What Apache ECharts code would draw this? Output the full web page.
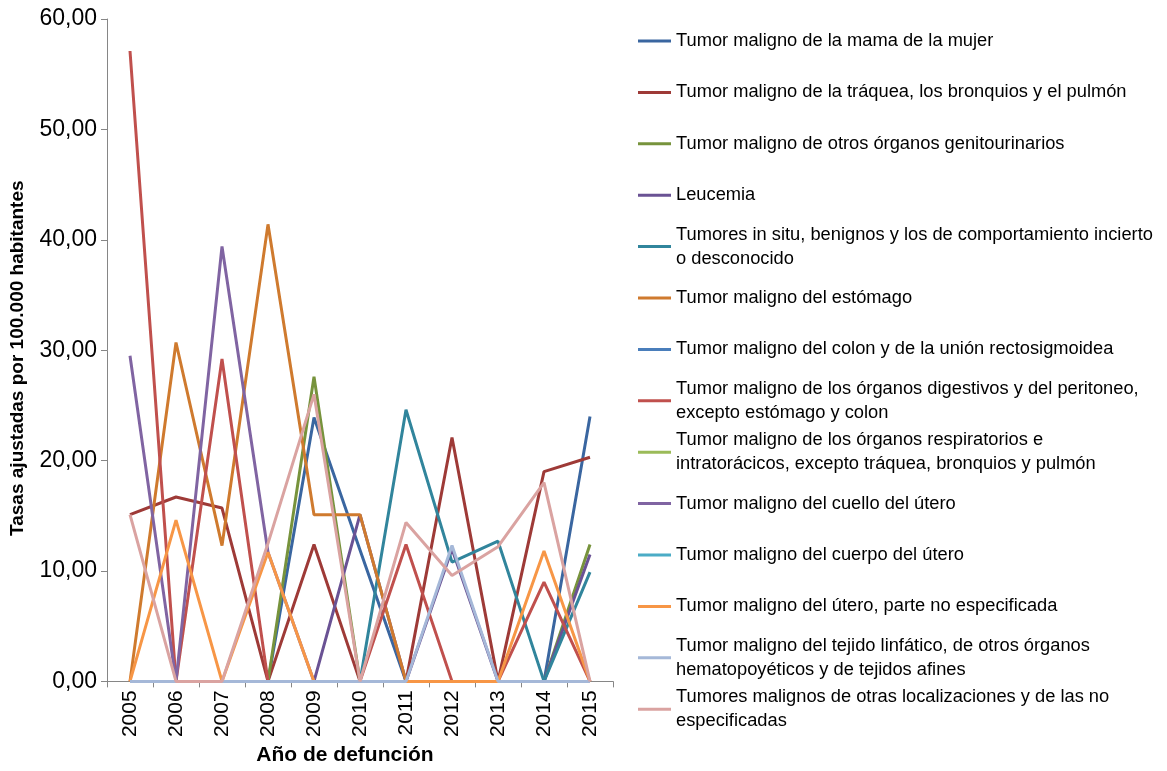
<!DOCTYPE html>
<html>
<head>
<meta charset="utf-8">
<title>Tasas ajustadas</title>
<script src="https://cdn.jsdelivr.net/npm/echarts@6/dist/echarts.min.js"></script>
<style>
  html, body { margin: 0; padding: 0; background: #fff; }
  #chart { width: 1167px; height: 771px; }
</style>
</head>
<body>
<div id="chart"></div>
<script>
// años (eje x)
var years = ['2005', '2006', '2007', '2008', '2009', '2010', '2011', '2012', '2013', '2014', '2015'];

// nombres de las series, tal como salen en la leyenda
var names = [
  'Tumor maligno de la mama de la mujer',
  'Tumor maligno de la tráquea, los bronquios y el pulmón',
  'Tumor maligno de otros órganos genitourinarios',
  'Leucemia',
  'Tumores in situ, benignos y los de comportamiento incierto\no desconocido',
  'Tumor maligno del estómago',
  'Tumor maligno del colon y de la unión rectosigmoidea',
  'Tumor maligno de los órganos digestivos y del peritoneo,\nexcepto estómago y colon',
  'Tumor maligno de los órganos respiratorios e\nintratorácicos, excepto tráquea, bronquios y pulmón',
  'Tumor maligno del cuello del útero',
  'Tumor maligno del cuerpo del útero',
  'Tumor maligno del útero, parte no especificada',
  'Tumor maligno del tejido linfático, de otros órganos\nhematopoyéticos y de tejidos afines',
  'Tumores malignos de otras localizaciones y de las no\nespecificadas'
];

// tasas por serie, 2005..2015
var mama          = [0, 0, 0, 0, 23.9, 11.9, 0, 0, 0, 0, 24.0];
var traquea       = [15.1, 16.7, 15.7, 0, 12.4, 0, 0, 22.1, 0, 19.0, 20.3];
var genitourin    = [0, 0, 0, 0, 27.6, 0, 0, 0, 0, 0, 12.4];
var leucemia      = [0, 0, 0, 0, 0, 15.1, 0, 12.0, 0, 0, 11.5];
var inSitu        = [0, 0, 0, 0, 0, 0, 24.6, 10.8, 12.7, 0, 9.9];
var estomago      = [0, 30.7, 12.3, 41.4, 15.1, 15.1, 0, 0, 0, 0, 0];
var colon         = [0, 0, 0, 0, 0, 0, 0, 0, 0, 0, 0];
var digestivos    = [57.1, 0, 29.2, 0, 0, 0, 12.4, 0, 0, 9.0, 0];
var respiratorios = [0, 0, 0, 0, 0, 0, 0, 0, 0, 0, 0];
var cuelloUtero   = [29.5, 0, 39.4, 11.7, 0, 0, 0, 0, 0, 0, 0];
var cuerpoUtero   = [0, 0, 0, 0, 0, 0, 0, 0, 0, 0, 0];
var uteroNoEsp    = [0, 14.6, 0, 11.7, 0, 0, 0, 0, 0, 11.8, 0];
var linfatico     = [0, 0, 0, 0, 0, 0, 0, 12.3, 0, 0, 0];
var otras         = [15.1, 0, 0, 12.5, 26.0, 0, 14.4, 9.6, 12.2, 18.0, 0];

var values = [mama, traquea, genitourin, leucemia, inSitu, estomago, colon,
  digestivos, respiratorios, cuelloUtero, cuerpoUtero, uteroNoEsp, linfatico, otras];

var colors = ['#3A66A0', '#9E3A37', '#77933C', '#6A5294', '#31859C', '#CF7A2E', '#4A7EBB',
  '#C0504D', '#9BBB59', '#8064A2', '#4BACC6', '#F79646', '#A5B8D8', '#DAA3A1'];

var font = "'Liberation Sans', Arial, sans-serif";

var myChart = echarts.init(document.getElementById('chart'), null, { renderer: 'canvas' });

// una leyenda por serie, así cada entrada queda en su sitio
var legends = [];
for (var i = 0; i < names.length; i++) {
  var twoLines = names[i].indexOf('\n') >= 0;
  var iconY = 41 + i * 51.4;
  legends.push({
    orient: 'vertical',
    left: 638,
    top: twoLines ? iconY - 36 : iconY - 12,
    padding: 0,
    icon: 'rect',
    itemWidth: 33,
    itemHeight: 3,
    selectedMode: false,
    data: [{
      name: names[i],
      textStyle: twoLines ? { padding: [24, 0, 0, 0] } : {}
    }],
    textStyle: {
      fontFamily: font,
      fontSize: 18.3,
      lineHeight: 24,
      color: '#000'
    }
  });
}

var series = [];
for (var j = 0; j < names.length; j++) {
  series.push({
    name: names[j],
    type: 'line',
    data: values[j],
    symbol: 'none',
    color: colors[j],
    lineStyle: { width: 3, color: colors[j] },
    animation: false
  });
}

var option = {
  backgroundColor: '#fff',
  color: colors,
  grid: { left: 107, right: 554, top: 19, bottom: 82 },
  legend: legends,
  xAxis: {
    type: 'category',
    data: years,
    boundaryGap: true,
    name: 'Año de defunción',
    nameLocation: 'middle',
    nameGap: 57,
    nameTextStyle: {
      fontFamily: font, fontWeight: 'bold', fontSize: 21, color: '#000',
      padding: [0, 30, 0, 0]
    },
    axisLine: { lineStyle: { color: '#868686', width: 1 } },
    axisTick: { show: true, length: 6, lineStyle: { color: '#868686' } },
    axisLabel: { rotate: 90, fontFamily: font, fontSize: 21, color: '#000', margin: 9 }
  },
  yAxis: {
    type: 'value',
    min: 0,
    max: 60,
    interval: 10,
    name: 'Tasas ajustadas por 100.000 habitantes',
    nameLocation: 'middle',
    nameGap: 80,
    nameTextStyle: {
      fontFamily: font, fontWeight: 'bold', fontSize: 19, color: '#000',
      padding: [0, 16, 0, 0]
    },
    splitLine: { show: false },
    axisLine: { show: true, lineStyle: { color: '#868686', width: 1 } },
    axisTick: { show: true, length: 6, lineStyle: { color: '#868686' } },
    axisLabel: {
      fontFamily: font, fontSize: 23, color: '#000', margin: 10,
      formatter: function (v) { return v.toFixed(2).replace('.', ','); }
    }
  },
  series: series
};

myChart.setOption(option);
</script>
</body>
</html>
